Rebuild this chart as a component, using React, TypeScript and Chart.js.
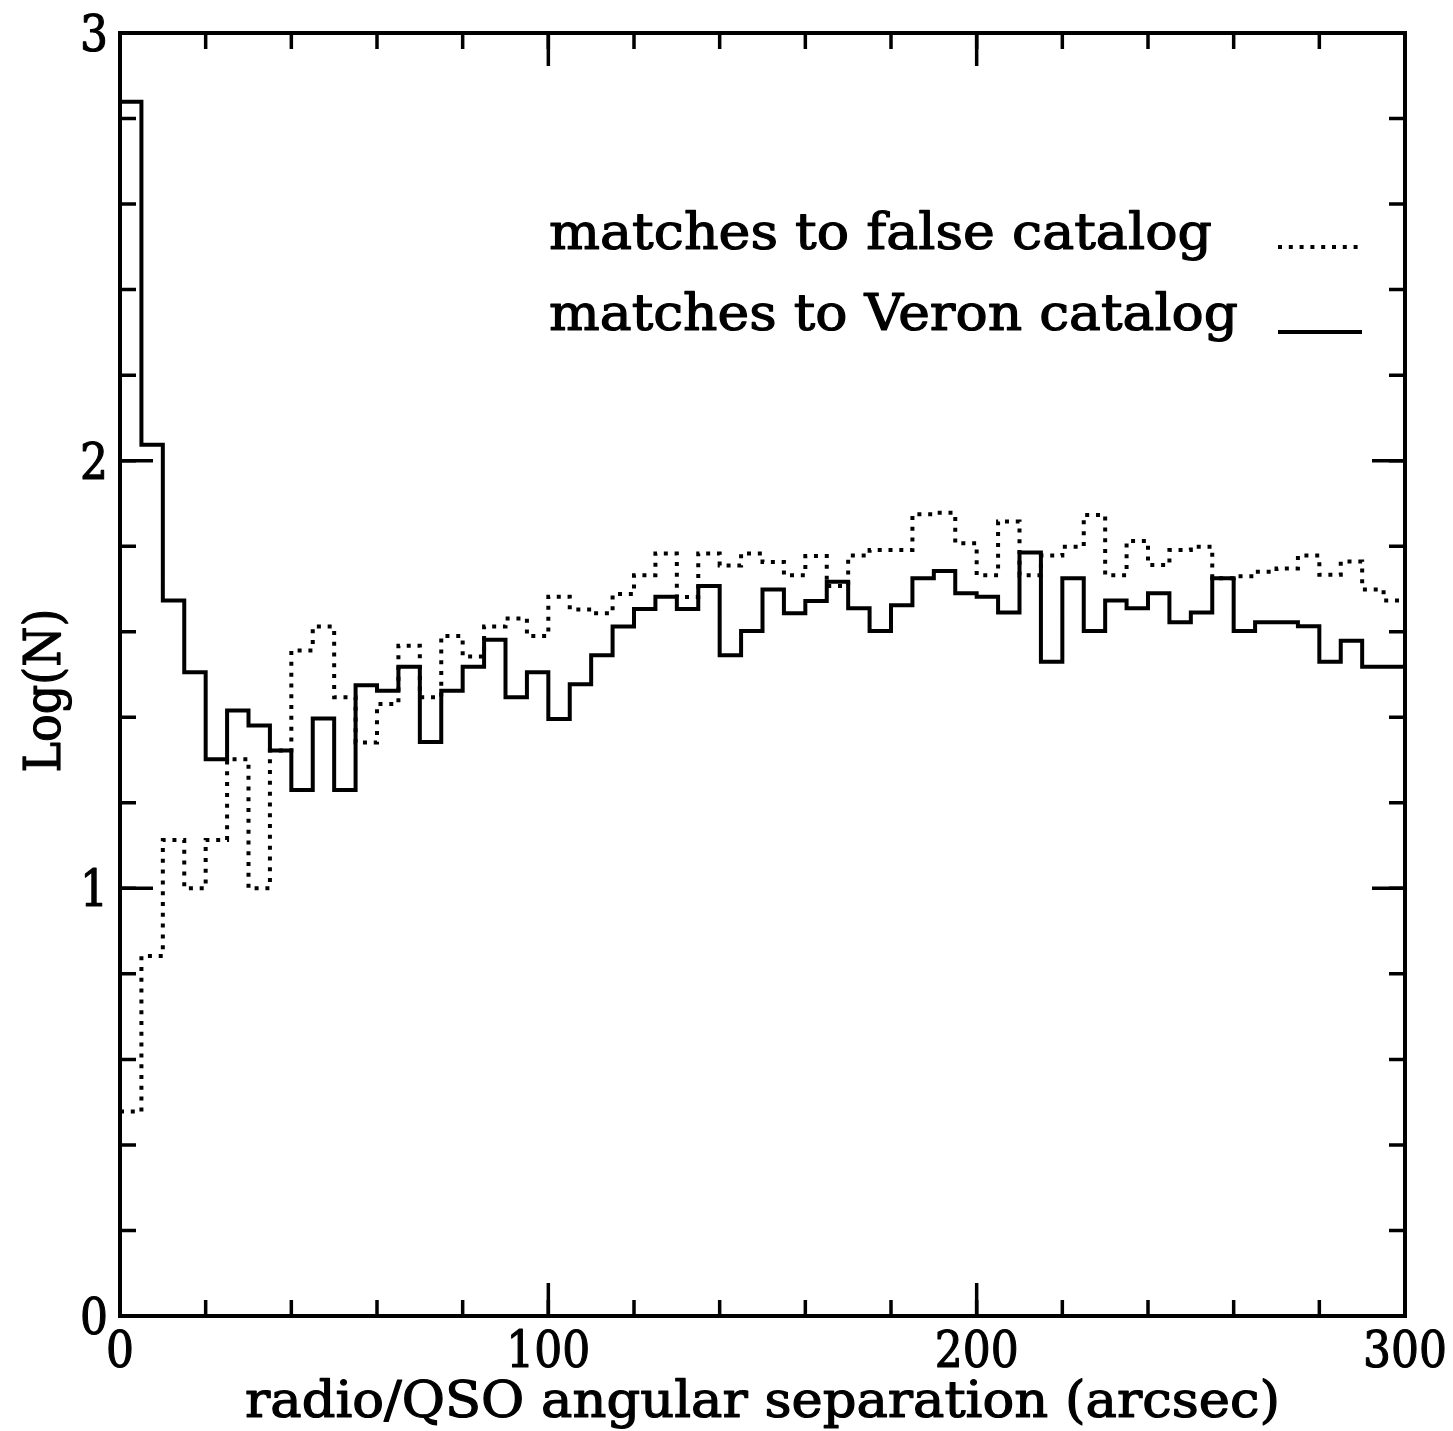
import React, { useEffect, useRef } from 'react';
import { Chart, registerables } from 'chart.js';

Chart.register(...registerables);

// Histogram bins: 5 arcsec wide, 0..300 arcsec
const BIN_WIDTH = 5;

// Log(N) per bin — matches to the Veron catalog (solid)
const VERON_LOGN = [
  2.839, 2.037, 1.673, 1.505, 1.302, 1.416, 1.381, 1.322, 1.230, 1.397,
  1.230, 1.475, 1.462, 1.518, 1.342, 1.462, 1.518, 1.581, 1.447, 1.505,
  1.396, 1.477, 1.545, 1.612, 1.653, 1.682, 1.653, 1.707, 1.545, 1.602,
  1.699, 1.643, 1.672, 1.717, 1.655, 1.602, 1.662, 1.725, 1.742, 1.690,
  1.682, 1.645, 1.785, 1.530, 1.725, 1.602, 1.673, 1.655, 1.690, 1.622,
  1.645, 1.725, 1.602, 1.622, 1.622, 1.613, 1.530, 1.579, 1.518, 1.518,
];

// Log(N) per bin — matches to the false catalog (dotted)
const FALSE_LOGN = [
  0.478, 0.842, 1.113, 1.000, 1.113, 1.302, 1.000, 1.322, 1.556, 1.612,
  1.447, 1.341, 1.431, 1.567, 1.447, 1.590, 1.542, 1.612, 1.631, 1.590,
  1.682, 1.652, 1.643, 1.688, 1.732, 1.783, 1.681, 1.783, 1.755, 1.783,
  1.763, 1.732, 1.777, 1.707, 1.778, 1.791, 1.791, 1.875, 1.878, 1.807,
  1.732, 1.858, 1.732, 1.778, 1.799, 1.873, 1.732, 1.812, 1.756, 1.791,
  1.799, 1.725, 1.730, 1.740, 1.748, 1.778, 1.733, 1.764, 1.699, 1.673,
];

const X_MIN = 0;
const X_MAX = 300;
const Y_MIN = 0;
const Y_MAX = 3;
const X_MAJOR_TICKS = [0, 100, 200, 300];
const X_TICK_LABELS = ['0', '100', '200', '300'];
const X_MINOR_STEP = 20;
const Y_MAJOR_TICKS = [0, 1, 2, 3];
const Y_TICK_LABELS = ['0', '1', '2', '3'];
const Y_MINOR_STEP = 0.2;

const X_TITLE = 'radio/QSO angular separation (arcsec)';
const Y_TITLE = 'Log(N)';
const LEGEND_LABELS = ['matches to false catalog', 'matches to Veron catalog'];

const FONT = '"DejaVu Serif", serif';
const FONT_SIZE = 50;
const LINE_W = 4;
const DOT_DASH = [4, 6.8];

function toSteps(values: number[]) {
  const pts = values.map((v, i) => ({ x: i * BIN_WIDTH, y: v }));
  pts.push({ x: values.length * BIN_WIDTH, y: values[values.length - 1] });
  return pts;
}

function fitText(
  ctx: CanvasRenderingContext2D,
  text: string,
  x: number,
  y: number,
  width: number,
  align: CanvasTextAlign
) {
  const w = ctx.measureText(text).width;
  const sx = width / w;
  ctx.save();
  ctx.translate(x, y);
  ctx.scale(sx, 1);
  ctx.textAlign = align;
  ctx.lineWidth = 1.2;
  ctx.lineJoin = 'round';
  ctx.fillText(text, 0, 0);
  ctx.strokeText(text, 0, 0);
  ctx.restore();
}

const framePlugin = {
  id: 'framePlugin',
  afterDraw(chart: any) {
    const ctx: CanvasRenderingContext2D = chart.ctx;
    const { left, right, top, bottom } = chart.chartArea;
    const xs = chart.scales.x;
    const ys = chart.scales.y;
    const MAJ = 33;
    const MIN = 16;
    ctx.save();
    ctx.strokeStyle = '#000';
    ctx.fillStyle = '#000';
    ctx.lineWidth = LINE_W;
    ctx.lineCap = 'square';
    ctx.setLineDash([]);
    // frame
    ctx.strokeRect(left, top, right - left, bottom - top);
    ctx.lineCap = 'butt';
    ctx.lineWidth = 3.5;
    // x ticks
    const nX = Math.round((X_MAX - X_MIN) / X_MINOR_STEP);
    for (let i = 0; i <= nX; i++) {
      const v = X_MIN + i * X_MINOR_STEP;
      const px = xs.getPixelForValue(v);
      ctx.beginPath();
      ctx.moveTo(px, bottom);
      ctx.lineTo(px, bottom - MIN);
      ctx.moveTo(px, top);
      ctx.lineTo(px, top + MIN);
      ctx.stroke();
    }
    X_MAJOR_TICKS.forEach((v) => {
      const px = xs.getPixelForValue(v);
      ctx.beginPath();
      ctx.moveTo(px, bottom);
      ctx.lineTo(px, bottom - MAJ);
      ctx.moveTo(px, top);
      ctx.lineTo(px, top + MAJ);
      ctx.stroke();
    });
    // y ticks
    const nY = Math.round((Y_MAX - Y_MIN) / Y_MINOR_STEP);
    for (let i = 0; i <= nY; i++) {
      const v = Y_MIN + i * Y_MINOR_STEP;
      const py = ys.getPixelForValue(v);
      ctx.beginPath();
      ctx.moveTo(left, py);
      ctx.lineTo(left + MIN, py);
      ctx.moveTo(right, py);
      ctx.lineTo(right - MIN, py);
      ctx.stroke();
    }
    Y_MAJOR_TICKS.forEach((v) => {
      const py = ys.getPixelForValue(v);
      ctx.beginPath();
      ctx.moveTo(left, py);
      ctx.lineTo(left + MAJ, py);
      ctx.moveTo(right, py);
      ctx.lineTo(right - MAJ, py);
      ctx.stroke();
    });

    // tick labels
    ctx.font = `${FONT_SIZE}px ${FONT}`;
    ctx.textBaseline = 'alphabetic';
    X_MAJOR_TICKS.forEach((v, i) => {
      const px = xs.getPixelForValue(v);
      const lbl = X_TICK_LABELS[i];
      fitText(ctx, lbl, px, bottom + 51, lbl.length * 28, 'center');
    });
    Y_MAJOR_TICKS.forEach((v, i) => {
      const py = ys.getPixelForValue(v);
      const lbl = Y_TICK_LABELS[i];
      fitText(ctx, lbl, left - 12, py + 18, lbl.length * 28, 'right');
    });

    // axis titles
    fitText(ctx, X_TITLE, (left + right) / 2, bottom + 101, 1035, 'center');
    ctx.save();
    ctx.translate(60, (top + bottom) / 2 + 16);
    ctx.rotate(-Math.PI / 2);
    fitText(ctx, Y_TITLE, 0, 0, 164, 'center');
    ctx.restore();

    // legend
    fitText(ctx, LEGEND_LABELS[0], 549, 249, 663, 'left');
    fitText(ctx, LEGEND_LABELS[1], 549, 330, 689, 'left');
    ctx.lineWidth = LINE_W;
    ctx.setLineDash(DOT_DASH);
    ctx.beginPath();
    ctx.moveTo(1278, 247);
    ctx.lineTo(1362, 247);
    ctx.stroke();
    ctx.setLineDash([]);
    ctx.beginPath();
    ctx.moveTo(1278, 332);
    ctx.lineTo(1362, 332);
    ctx.stroke();
    ctx.restore();
  },
};

export default function App() {
  const ref = useRef<HTMLCanvasElement | null>(null);
  useEffect(() => {
    const canvas = ref.current;
    if (!canvas) return;
    const chart = new Chart(canvas, {
      type: 'line',
      data: {
        datasets: [
          {
            label: LEGEND_LABELS[0],
            data: toSteps(FALSE_LOGN),
            stepped: true,
            borderColor: '#000',
            borderWidth: LINE_W,
            borderDash: DOT_DASH,
            pointRadius: 0,
            fill: false,
          },
          {
            label: LEGEND_LABELS[1],
            data: toSteps(VERON_LOGN),
            stepped: true,
            borderColor: '#000',
            borderWidth: LINE_W,
            pointRadius: 0,
            fill: false,
          },
        ],
      },
      options: {
        animation: false,
        responsive: false,
        devicePixelRatio: 1,
        parsing: false,
        layout: { padding: { left: 120, top: 33, right: 48, bottom: 115 } },
        plugins: { legend: { display: false }, tooltip: { enabled: false } },
        scales: {
          x: { type: 'linear', min: X_MIN, max: X_MAX, display: false },
          y: { type: 'linear', min: Y_MIN, max: Y_MAX, display: false },
        },
      } as any,
      plugins: [framePlugin],
    });
    return () => chart.destroy();
  }, []);
  return (
    <div style={{ position: 'absolute', left: 0, top: 0, width: 1453, height: 1431, background: '#fff' }}>
      <canvas ref={ref} width={1453} height={1431} style={{ width: 1453, height: 1431, display: 'block' }} />
    </div>
  );
}
